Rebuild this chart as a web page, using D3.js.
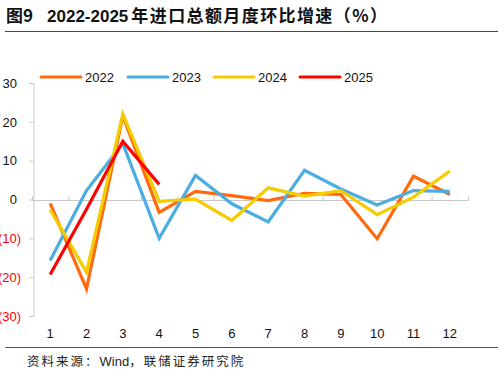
<!DOCTYPE html>
<html>
<head>
<meta charset="utf-8">
<script src="https://cdn.jsdelivr.net/npm/d3@7"></script>
<style>
body { margin: 0; background: #fff; }
svg { display: block; font-family: "Liberation Sans", Arial, "Noto Sans CJK SC", sans-serif; }
</style>
</head>
<body>
<div id="chart"></div>
<script>
var months = [1, 2, 3, 4, 5, 6, 7, 8, 9, 10, 11, 12];
var years = ["2022", "2023", "2024", "2025"];
var v2022 = [-1.0, -23.0, 21.5, -3.3, 2.1, 1.0, -0.3, 1.6, 1.3, -10.1, 6.0, 1.3];
var v2023 = [-15.7, 2.3, 14.4, -10.0, 6.2, -1.1, -5.8, 7.5, 2.7, -1.4, 2.3, 2.1];
var v2024 = [-2.6, -18.7, 22.0, -0.5, 0.1, -5.4, 3.0, 0.9, 2.3, -3.9, 0.6, 7.3];
var v2025 = [-19.3, -2.5, 15.0, 3.9];
var yTicks = [-30, -20, -10, 0, 10, 20, 30];
var colors = ["#FF6A0F", "#4BADE0", "#F4CC00", "#FF0000"];

var series = [v2022, v2023, v2024, v2025];

var width = 504, height = 372;
var svg = d3.select("#chart").append("svg")
    .attr("width", width)
    .attr("height", height);

// title
var title = svg.append("text")
    .attr("x", 6)
    .attr("y", 22)
    .style("font-size", "17px")
    .style("font-weight", "bold")
    .style("fill", "#111");
title.append("tspan").style("font-family", "'Noto Sans CJK SC'").text("图9");
title.append("tspan").attr("dx", 14).text("2022-2025");
title.append("tspan").attr("dx", 3).style("font-family", "'Noto Sans CJK SC'")
    .style("letter-spacing", "1.4px").text("年进口总额月度环比增速（%）");

svg.append("line")
    .attr("x1", 5).attr("x2", 498)
    .attr("y1", 31.5).attr("y2", 31.5)
    .style("stroke", "#444").style("stroke-width", 1);

// scales
var x = d3.scaleBand().domain(months).range([32, 468]).padding(0);
var xEdge = d3.scaleLinear().domain([0, 12]).range([32, 468]);
var y = d3.scaleLinear().domain([-30, 30]).range([316, 83]);

// y axis
var yAxis = svg.append("g")
    .attr("transform", "translate(33.5,0)")
    .call(d3.axisLeft(y).tickValues(yTicks).tickSize(4).tickPadding(0)
        .tickFormat(function (d) { return d < 0 ? "(" + (-d) + ")" : d; }));
yAxis.select(".domain").style("stroke", "#c8c8c8");
yAxis.selectAll(".tick line").style("stroke", "#c8c8c8");
yAxis.selectAll("text")
    .attr("x", function (d) { return d < 0 ? -12.5 : -16.5; })
    .style("font-size", "13px")
    .style("font-family", "'Liberation Sans', Arial, sans-serif")
    .style("fill", function (d) { return d < 0 ? "#FF0000" : "#111"; });

// zero line with ticks between months
var xAxis = svg.append("g")
    .attr("transform", "translate(0," + (y(0) + 0.5) + ")")
    .call(d3.axisTop(xEdge).ticks(12).tickSize(4).tickFormat(""));
xAxis.select(".domain").style("stroke", "#c8c8c8");
xAxis.selectAll(".tick line").style("stroke", "#c8c8c8");

// month labels
var xLab = svg.append("g")
    .attr("transform", "translate(0,326)")
    .call(d3.axisBottom(x).tickSize(0));
xLab.select(".domain").remove();
xLab.selectAll("text")
    .style("font-size", "13px")
    .style("font-family", "'Liberation Sans', Arial, sans-serif")
    .style("fill", "#111");

// lines
var line = d3.line()
    .x(function (d, i) { return x(months[i]) + x.bandwidth() / 2; })
    .y(function (d) { return y(d); });

series.forEach(function (s, k) {
    svg.append("path")
        .datum(s)
        .attr("d", line)
        .style("fill", "none")
        .style("stroke", colors[k])
        .style("stroke-width", 3.2)
        .style("stroke-linejoin", "miter");
});

// legend
var legendX = [41, 128, 214, 300];
var legend = svg.selectAll(".legend")
    .data(years)
    .enter()
    .append("g")
    .attr("class", "legend")
    .attr("transform", function (d, i) { return "translate(" + legendX[i] + ",77)"; });
legend.append("line")
    .attr("x1", 0).attr("x2", 40)
    .style("stroke", function (d, i) { return colors[i]; })
    .style("stroke-width", 3)
    .style("stroke-linecap", "round");
legend.append("text")
    .attr("x", 44)
    .attr("y", 5)
    .style("font-size", "13px")
    .style("fill", "#111")
    .text(function (d) { return d; });

// bottom rule and source
svg.append("line")
    .attr("x1", 5).attr("x2", 498)
    .attr("y1", 347.5).attr("y2", 347.5)
    .style("stroke", "#555").style("stroke-width", 1);

var src = svg.append("text")
    .attr("x", 27)
    .attr("y", 366)
    .style("font-size", "12.5px")
    .style("font-family", "'Noto Sans CJK SC', sans-serif")
    .style("fill", "#222");
src.append("tspan").style("letter-spacing", "2px").text("资料来源：");
src.append("tspan").style("font-family", "'Liberation Sans', Arial, sans-serif").style("font-size", "13px").text("Wind");
src.append("tspan").style("letter-spacing", "2px").text("，联储证券研究院");
</script>
</body>
</html>
